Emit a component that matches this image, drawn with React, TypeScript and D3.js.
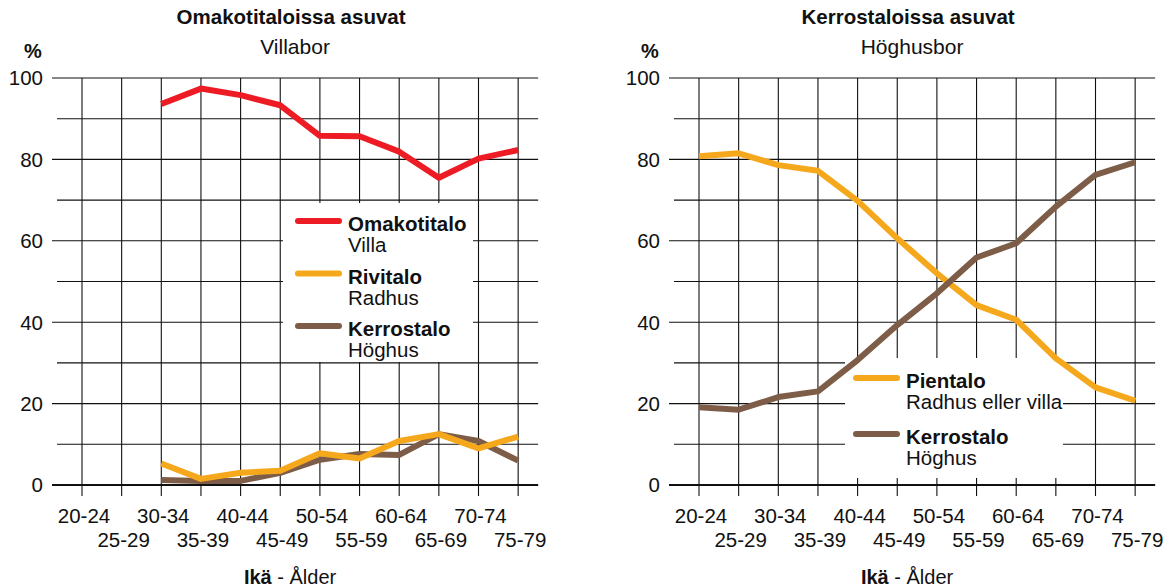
import React from "react";
import * as d3 from "d3";

const ageGroups = ["20-24","25-29","30-34","35-39","40-44","45-49","50-54","55-59","60-64","65-69","70-74","75-79"];
const yTicks = [0, 20, 40, 60, 80, 100];
const yMinor = [10, 30, 50, 70, 90];

// Left chart: Omakotitaloissa asuvat
const leftOmakotitalo = [null, null, 93.6, 97.4, 95.8, 93.3, 85.8, 85.7, 81.9, 75.5, 80.2, 82.3];
const leftRivitalo = [null, null, 5.3, 1.5, 3.0, 3.5, 7.8, 6.5, 10.8, 12.5, 9.0, 11.9];
const leftKerrostalo = [null, null, 1.2, 1.0, 1.0, 3.0, 6.2, 7.6, 7.4, 12.5, 10.8, 6.0];

// Right chart: Kerrostaloissa asuvat
const rightPientalo = [80.8, 81.5, 78.6, 77.2, 69.8, 60.6, 52.0, 44.2, 40.6, 31.1, 24.0, 20.7];
const rightKerrostalo = [19.1, 18.5, 21.6, 23.0, 30.7, 39.3, 47.1, 55.9, 59.4, 68.4, 76.2, 79.3];

const RED = "#ED1C24";
const YELLOW = "#F6A81D";
const BROWN = "#7E5D48";
const FONT = "'Liberation Sans', Arial, Helvetica, sans-serif";

type Series = { values: (number | null)[]; color: string };
type LegendItem = { color: string; bold: string; regular: string };

function Chart(props: {
  x0: number;
  title: string;
  subtitle: string;
  series: Series[];
  legend: LegendItem[];
  legendBox: { x: number; y: number; w: number; h: number };
  legendLineX: number;
  legendTextX: number;
  legendStartY: number;
  legendGap: number;
}) {
  const { x0, title, subtitle, series, legend, legendBox, legendLineX, legendTextX, legendStartY, legendGap } = props;
  const step = 39.65;
  const x = d3.scalePoint<string>().domain(ageGroups).range([x0, x0 + step * (ageGroups.length - 1)]);
  const y = d3.scaleLinear().domain([0, 100]).range([485, 78]);
  const gridLeftMajor = x0 - 30;
  const gridLeftMinor = x0 - 25;
  const gridRight = x0 + step * (ageGroups.length - 1) + 20;
  const center = (gridLeftMajor + gridRight) / 2;
  const line = d3
    .line<number | null>()
    .defined((d) => d != null)
    .x((_, i) => x(ageGroups[i]) as number)
    .y((d) => y(d as number));

  return (
    <g>
      <text x={center - 4} y={24} textAnchor="middle" fontWeight="bold" fontSize={20.5}>{title}</text>
      <text x={center} y={54} textAnchor="middle" fontSize={21}>{subtitle}</text>
      <text x={gridLeftMajor - 19} y={58} textAnchor="middle" fontWeight="bold" fontSize={20}>%</text>
      {yTicks.map((t) => (
        <g key={"maj" + t}>
          <line x1={gridLeftMajor} x2={gridRight} y1={y(t)} y2={y(t)} stroke="#111" strokeWidth={t === 0 ? 2 : 1.1} />
          <text x={gridLeftMajor - 9} y={y(t)} dy="0.36em" textAnchor="end" fontSize={20.5}>{t}</text>
        </g>
      ))}
      {yMinor.map((t) => (
        <line key={"min" + t} x1={gridLeftMinor} x2={gridRight} y1={y(t)} y2={y(t)} stroke="#111" strokeWidth={1.1} />
      ))}
      {ageGroups.map((a) => (
        <line key={"v" + a} x1={x(a)} x2={x(a)} y1={y(100)} y2={496} stroke="#111" strokeWidth={1.1} />
      ))}
      {ageGroups.map((a, i) => (
        <text key={"l" + a} x={(x(a) as number) + 2} y={i % 2 === 0 ? 523 : 547} textAnchor="middle" fontSize={20.5}>{a}</text>
      ))}
      <text x={center - 5} y={584} textAnchor="middle" fontSize={20}>
        <tspan fontWeight="bold">Ikä</tspan>
        <tspan> - Ålder</tspan>
      </text>
      <rect x={legendBox.x} y={legendBox.y} width={legendBox.w} height={legendBox.h} fill="#fff" />
      {series.map((s, i) => (
        <path key={"s" + i} d={line(s.values) || ""} fill="none" stroke={s.color} strokeWidth={6} strokeLinejoin="round" strokeLinecap="butt" />
      ))}
      {legend.map((l, i) => {
        const ly = legendStartY + i * legendGap;
        return (
          <g key={"lg" + i}>
            <line x1={legendLineX} x2={legendLineX + 41} y1={ly} y2={ly} stroke={l.color} strokeWidth={6} strokeLinecap="round" />
            <text x={legendTextX} y={ly + 10} fontWeight="bold" fontSize={20.5}>{l.bold}</text>
            <text x={legendTextX} y={ly + 31} fontSize={20.5}>{l.regular}</text>
          </g>
        );
      })}
    </g>
  );
}

export default function App() {
  return (
    <svg width={1169} height={587} style={{ position: "absolute", left: 0, top: 0, background: "#fff" }} fontFamily={FONT} fill="#111">
      <rect x={0} y={0} width={1169} height={587} fill="#fff" />
      <Chart
        x0={82}
        title="Omakotitaloissa asuvat"
        subtitle="Villabor"
        series={[
          { values: leftKerrostalo, color: BROWN },
          { values: leftRivitalo, color: YELLOW },
          { values: leftOmakotitalo, color: RED },
        ]}
        legend={[
          { color: RED, bold: "Omakotitalo", regular: "Villa" },
          { color: YELLOW, bold: "Rivitalo", regular: "Radhus" },
          { color: BROWN, bold: "Kerrostalo", regular: "Höghus" },
        ]}
        legendBox={{ x: 283, y: 203, w: 190, h: 159 }}
        legendLineX={298}
        legendTextX={348}
        legendStartY={221}
        legendGap={52.5}
      />
      <Chart
        x0={699}
        title="Kerrostaloissa asuvat"
        subtitle="Höghusbor"
        series={[
          { values: rightPientalo, color: YELLOW },
          { values: rightKerrostalo, color: BROWN },
        ]}
        legend={[
          { color: YELLOW, bold: "Pientalo", regular: "Radhus eller villa" },
          { color: BROWN, bold: "Kerrostalo", regular: "Höghus" },
        ]}
        legendBox={{ x: 845, y: 358, w: 218, h: 120 }}
        legendLineX={856}
        legendTextX={906}
        legendStartY={378}
        legendGap={56}
      />
    </svg>
  );
}
